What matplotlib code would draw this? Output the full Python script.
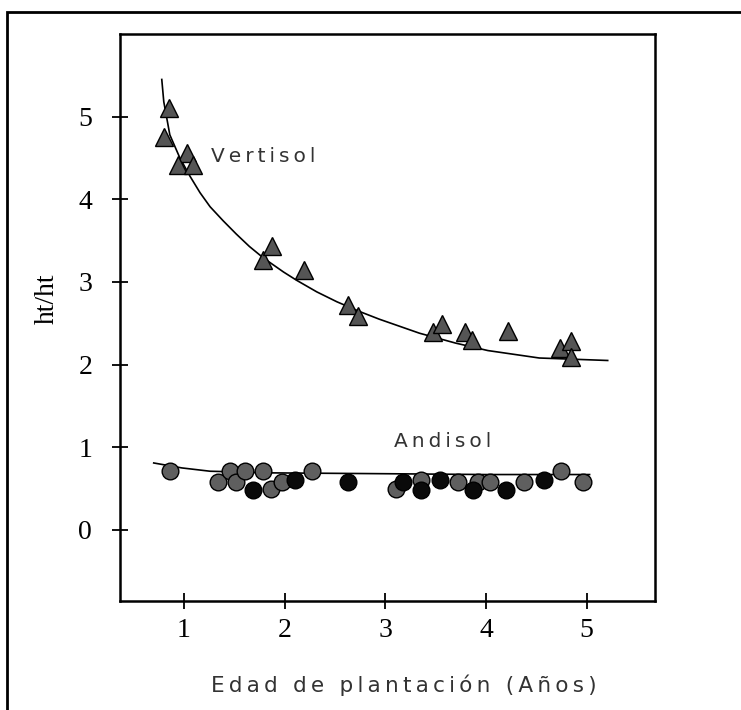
import numpy as np
import matplotlib
matplotlib.use("Agg")
import matplotlib.pyplot as plt
from matplotlib.patches import Rectangle

# Vertisol (triangles)
vert_x = [0.85, 0.80, 1.03, 0.94, 1.09, 1.79, 1.88, 2.19, 2.63, 2.73,
          3.47, 3.56, 3.79, 3.86, 4.22, 4.74, 4.85, 4.85]
vert_y = [5.11, 4.75, 4.56, 4.41, 4.41, 3.27, 3.43, 3.15, 2.72, 2.59,
          2.40, 2.49, 2.39, 2.30, 2.41, 2.20, 2.28, 2.09]

# Vertisol trend line
vert_fit_x = [0.78, 0.80, 0.86, 0.96, 1.06, 1.16, 1.26, 1.39, 1.52, 1.65,
              1.79, 1.99, 2.12, 2.32, 2.52, 2.75, 2.94, 3.34, 3.70, 4.02,
              4.53, 5.21]
vert_fit_y = [5.45, 5.18, 4.78, 4.50, 4.28, 4.08, 3.91, 3.74, 3.58, 3.43,
              3.29, 3.12, 3.02, 2.88, 2.76, 2.64, 2.55, 2.38, 2.26, 2.17,
              2.08, 2.05]

# Andisol (circles, gray and black)
andg_x = [0.86, 1.34, 1.46, 1.52, 1.61, 1.79, 1.87, 1.97, 2.27, 3.11,
          3.36, 3.72, 3.92, 4.04, 4.38, 4.75, 4.96]
andg_y = [0.71, 0.58, 0.71, 0.58, 0.71, 0.71, 0.50, 0.58, 0.71, 0.50,
          0.61, 0.58, 0.58, 0.58, 0.58, 0.71, 0.58]
andb_x = [1.69, 2.10, 2.63, 3.18, 3.36, 3.54, 3.87, 4.20, 4.58]
andb_y = [0.48, 0.61, 0.58, 0.58, 0.48, 0.61, 0.48, 0.48, 0.61]

# Andisol trend line, traced
and_fit_x = [0.70, 0.98, 1.26, 1.89, 3.00, 4.00, 5.03]
and_fit_y = [0.81, 0.75, 0.71, 0.69, 0.68, 0.67, 0.67]

xticks = [1, 2, 3, 4, 5]
yticks = [0, 1, 2, 3, 4, 5]


def spaced(s):
    return "\u2009".join(s)


fig = plt.figure(figsize=(7.41, 7.10), dpi=100)
ax = fig.add_axes([120 / 741, 109 / 710, 535 / 741, 567 / 710])

# outer frame
fig.patches.append(Rectangle((7 / 741, -0.1), 1.2, 1 - 12 / 710 + 0.1,
                             transform=fig.transFigure, fill=False,
                             edgecolor="black", linewidth=2))

ax.plot(vert_fit_x, vert_fit_y, color="black", lw=1.2)
ax.plot(and_fit_x, and_fit_y, color="black", lw=1.2)

ax.plot(vert_x, vert_y, "^", ms=13, mfc="#555555", mec="black", mew=1)
ax.plot(andg_x, andg_y, "o", ms=12, mfc="#5f5f5f", mec="black", mew=1)
ax.plot(andb_x, andb_y, "o", ms=12, mfc="#0a0a0a", mec="black", mew=1)

ax.text(1.27, 4.52, spaced("Vertisol"), fontsize=14.5, family="DejaVu Sans",
        va="center", ha="left", color="#333333")
ax.text(3.09, 1.07, spaced("Andisol"), fontsize=14.5, family="DejaVu Sans",
        va="center", ha="left", color="#333333")

ax.set_xlim(0.365, 5.68)
ax.set_ylim(-0.86, 6.0)
ax.set_xticks(xticks)
ax.set_yticks(yticks)
ax.tick_params(direction="inout", length=12, width=1.3, labelsize=20,
               top=False, right=False)
ax.tick_params(axis="y", pad=14)
ax.tick_params(axis="x", pad=6)
for lab in ax.get_xticklabels() + ax.get_yticklabels():
    lab.set_family("Liberation Serif")
for sp in ax.spines.values():
    sp.set_linewidth(1.8)

ax.set_ylabel("ht/ht", fontsize=20, family="Liberation Serif", va="center")
ax.yaxis.set_label_coords(-0.136, 0.533)
ax.set_xlabel(spaced("Edad de plantación (Años)"), fontsize=15.5,
              family="DejaVu Sans", color="#333333", va="center")
ax.xaxis.set_label_coords(0.53, -0.148)

fig.savefig("out.png", dpi=100)
